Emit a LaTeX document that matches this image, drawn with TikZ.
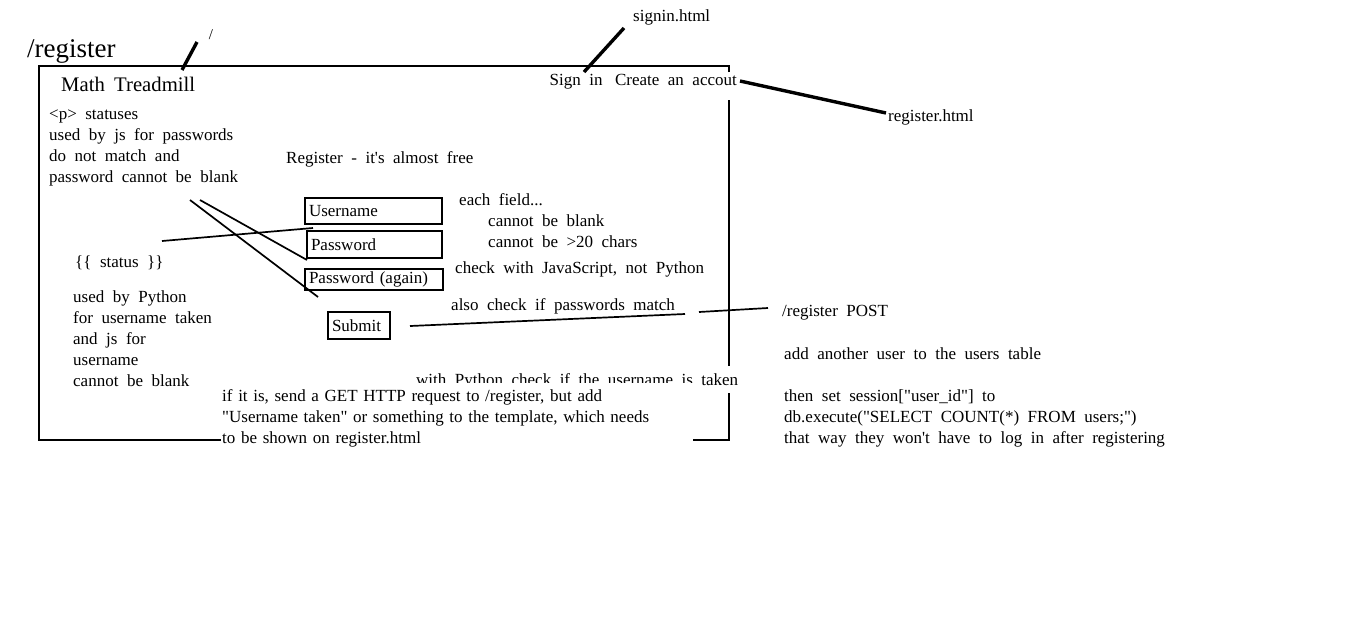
\documentclass[tikz,border=0pt]{standalone}
\usepackage{fontspec}
\setmainfont{Liberation Serif}
\usetikzlibrary{positioning}

\newcommand{\notefont}{\fontsize{17}{21}\selectfont\spaceskip=0.5em plus 0.1em\relax}
\newcommand{\titlefont}{\fontsize{20.7}{24}\selectfont\spaceskip=0.45em\relax}
\newcommand{\q}{\textquotedbl}
\newcommand{\ap}{\textquotesingle}

\begin{document}
\begin{tikzpicture}[x=1pt, y=-1pt,
    every node/.style={inner sep=0pt, anchor=base west, align=left, font=\notefont},
    frame/.style={line width=2.6pt},
    slash/.style={line width=3.4pt},
    link/.style={line width=1.7pt},
    field/.style={draw, line width=2pt, anchor=north west, inner xsep=4pt, align=left}]

\useasboundingbox (0,0) rectangle (1364,630);

% Page frame
\draw [frame] (729,72) -- (729,66) -- (39,66) -- (39,440) -- (221,440);
\draw [frame] (729,100) -- (729,366);
\draw [frame] (729,393) -- (729,440) -- (693,440);

% Header
\node (route) at (27,57) [font=\fontsize{27}{30}\selectfont] {/register};
\node (root) at (211,35) [anchor=center, font=\fontsize{15}{18}\selectfont] {/};
\node (title) at (61,91) [font=\titlefont] {Math Treadmill};
\node (nav) at (737,85) [anchor=base east] {Sign in\hspace{4pt} Create an accout};
\node (signin) at (633,21) {signin.html};
\node (reghtml) at (888,121) {register.html};
\draw [slash] (182,70) -- (197,42);
\coordinate (signinA) at (584,72);
\coordinate (signinB) at (624,28);
\draw [slash] (signinA) -- (signinB);
\coordinate (regA) at (740,81);
\coordinate (regB) at (886,113);
\draw [slash] (regA) -- (regB);

% Left notes
\node (pstat) at (49,182) {<p> statuses\\used by js for passwords\\do not match and\\password cannot be blank};
\node (status) at (75,267) {\{\{ status \}\}};
\node (pyuse) at (73,386) {used by Python\\for username taken\\and js for\\username\\cannot be blank};

% Form
\node (heading) at (286,163) {Register - it\ap s almost free};
\node (user) at (304,197) [field, text width=129pt, minimum height=26pt] {Username};
\node (pass) at (306,230) [field, text width=127pt, minimum height=27pt] {Password};
\node (again) at (304,268) [field, text width=130pt, minimum height=21pt] {Password (again)};
\node (submit) at (327,311) [field, text width=54pt, minimum height=27pt] {Submit};

% Field rules
\node (rules) at (459,247) {each field...\\\hspace*{29pt}cannot be blank\\\hspace*{29pt}cannot be >20 chars};
\node (jscheck) at (455,273) {check with JavaScript, not Python};
\node (match) at (451,310) {also check if passwords match};

% Links from notes to fields
\coordinate (pA) at (190,200);
\coordinate (pB) at (318,297);
\coordinate (pC) at (200,200);
\coordinate (pD) at (307,260);
\coordinate (sA) at (162,241);
\coordinate (sB) at (313,228);
\draw [link] (pA) -- (pB);
\draw [link] (pC) -- (pD);
\draw [link] (sA) -- (sB);

% POST handler
\node (post) at (782,316) {/register POST};
\node (adduser) at (784,359) {add another user to the users table};
\node (session) at (784,443) {then set session[\q user\_id\q] to\\db.execute(\q SELECT COUNT(*) FROM users;\q)\\that way they won\ap t have to log in after registering};
\coordinate (subA) at (410,326);
\coordinate (subB) at (685,314);
\coordinate (subC) at (699,312);
\coordinate (subD) at (768,308);
\draw [link] (subA) -- (subB);
\draw [link] (subC) -- (subD);

% Taken check
\node (taken) at (416,385) {with Python check if the username is taken};
\node (getback) at (222,401) [fill=white, text width=471pt] {\rule{0pt}{18pt}if it is, send a GET HTTP request to /register, but add\\\q Username taken\q{} or something to the template, which needs\\to be shown on register.html};

\end{tikzpicture}
\end{document}
